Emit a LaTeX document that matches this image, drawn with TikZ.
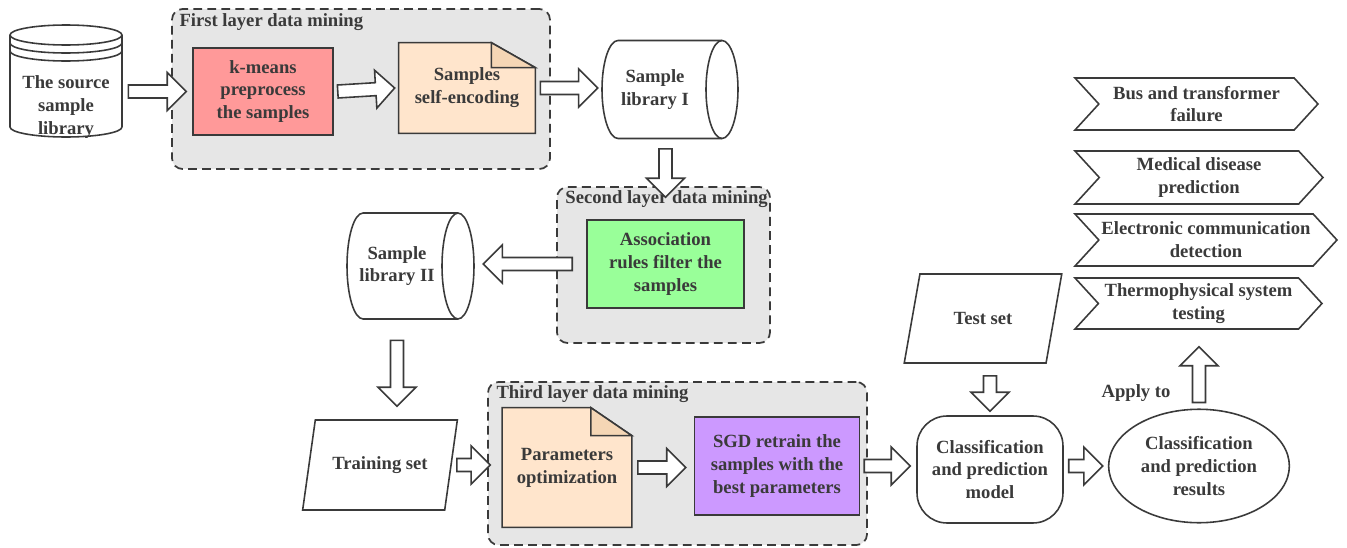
\documentclass[tikz,border=0pt]{standalone}
\usepackage{fontspec}
\setmainfont{Liberation Serif}[BoldFont={Liberation Serif Bold}]
\usetikzlibrary{shapes.geometric,shapes.symbols,calc,positioning}
\pgfdeclarelayer{background}
\pgfdeclarelayer{paper}
\pgfsetlayers{background,paper,main}
\definecolor{ink}{HTML}{3A3A3A}
\definecolor{layergray}{HTML}{E6E6E6}
\definecolor{kmred}{HTML}{FF9999}
\definecolor{docpeach}{HTML}{FFE5CC}
\definecolor{foldpeach}{HTML}{F5D6B5}
\definecolor{rulegreen}{HTML}{99FF99}
\definecolor{sgdpurple}{HTML}{CC99FF}
\newcommand{\boxfont}{\rmfamily\bfseries\fontsize{10.6}{13}\selectfont}
\tikzstyle{block} = [rectangle, draw=ink, line width=0.9pt, text=ink, align=center, font=\boxfont]
\tikzstyle{doc} = [rectangle, text=ink, align=center, font=\boxfont]
\tikzstyle{store} = [rectangle, text=ink, align=center, font=\boxfont]
\tikzstyle{io} = [trapezium, trapezium left angle=70, trapezium right angle=110,
    trapezium stretches=true, draw=ink, line width=0.9pt, text=ink, align=center, font=\boxfont]
\tikzstyle{tag} = [signal, signal to=east, signal from=west, signal pointer angle=95,
    draw=ink, line width=0.9pt, text=ink, align=center, font=\boxfont, inner sep=1pt]
\tikzstyle{layer} = [rectangle, draw=ink, dash pattern=on 5pt off 3pt, line width=1pt,
    fill=layergray, rounded corners=6pt]
\tikzstyle{caption} = [text=ink, font=\boxfont, inner sep=0pt, anchor=base west]
\tikzstyle{outline} = [draw=ink, line width=0.9pt]
\tikzstyle{line} = [draw=ink, fill=white, line width=0.9pt, line join=miter]
\tikzset{fat/.style={to path={let \p1=(\tikztostart), \p2=(\tikztotarget),
    \p3=($(\p2)!0.38cm!(\p1)$) in
    ($(\p1)!0.13cm!90:(\p2)$) -- ($(\p3)!0.13cm!-90:(\p1)$) -- ($(\p3)!0.38cm!-90:(\p1)$)
    -- (\p2) -- ($(\p3)!0.38cm!90:(\p1)$) -- ($(\p3)!0.13cm!90:(\p1)$)
    -- ($(\p1)!0.13cm!-90:(\p2)$) -- cycle}}}

\begin{document}
\begin{tikzpicture}[x=0.02cm, y=-0.02cm]
    \useasboundingbox (0,0) rectangle (1347,548);
    % Layer frames
    \begin{pgfonlayer}{background}
    \node [layer, minimum width=7.56cm, minimum height=3.2cm] (layer1) at (361,89) {};
    \node [layer, minimum width=4.26cm, minimum height=3.12cm] (layer2) at (663.5,265) {};
    \node [layer, minimum width=7.58cm, minimum height=3.26cm] (layer3) at (677.5,463.5) {};
    \end{pgfonlayer}
    \node [caption] (cap1) at ($(layer1.north west)+(8,18)$) {First layer data mining};
    \node [caption] (cap2) at ($(layer2.north west)+(9,17)$) {Second layer data mining};
    \node [caption] (cap3) at ($(layer3.north west)+(9,17)$) {Third layer data mining};

    % Place nodes
    \node [store, minimum width=2.24cm] (src) at (66,107) {The source\\sample\\library};
    \node [block, fill=kmred, minimum width=2.8cm, minimum height=1.74cm] (km) at (263,91.5) {k-means\\preprocess\\the samples};
    \node [doc, minimum width=2.72cm, minimum height=1.8cm] (enc) at (467,88) {Samples\\self-encoding};
    \node [store, minimum width=2.12cm, minimum height=1.96cm] (lib1) at (655,89.5) {Sample\\library I};
    \node [block, fill=rulegreen, minimum width=3.14cm, minimum height=1.76cm] (assoc) at (665.5,264) {Association\\rules filter the\\samples};
    \node [store, minimum width=3.12cm, minimum height=2.12cm] (lib2) at (397,266) {Sample\\library II};
    \node [io, minimum width=3.1cm, minimum height=1.8cm] (train) at (380,465) {Training set};
    \node [doc, minimum width=2.58cm, minimum height=2.38cm] (params) at (567,467.5) {Parameters\\optimization};
    \node [block, fill=sgdpurple, minimum width=3.3cm, minimum height=1.96cm] (sgd) at (777,466) {SGD retrain the\\samples with the\\best parameters};
    \node [block, rounded corners=0.6cm, minimum width=2.92cm, minimum height=2.14cm] (model) at (990,469.5) {Classification\\and prediction\\model};
    \node [io, minimum width=3.16cm, minimum height=1.78cm] (test) at (983,318.5) {Test set};
    \node [block, ellipse, minimum width=3.2cm, minimum height=2.27cm] (result) at (1199,466) {Classification\\and prediction\\results};
    \node [store] (apply) at (1136,393) {Apply to};
    \node [tag, minimum width=4.86cm, minimum height=1.04cm] (t1) at (1196.5,104) {Bus and transformer\\failure};
    \node [tag, minimum width=4.96cm, minimum height=1.06cm] (t2) at (1199,177.5) {Medical disease\\prediction};
    \node [tag, minimum width=5.24cm, minimum height=1.04cm] (t3) at (1206,240) {Electronic communication\\detection};
    \node [tag, minimum width=4.94cm, minimum height=1.02cm] (t4) at (1198.5,303.5) {Thermophysical system\\testing};

    % Storage and document outlines
    \draw [outline] ($(src.center)+(-56,-72)$) -- ($(src.center)+(-56,20)$)
        arc [start angle=180, end angle=360, x radius=1.12cm, y radius=0.2cm] -- ($(src.center)+(56,-72)$);
    \draw [outline] ($(src.center)+(0,-72)$) ellipse [x radius=1.12cm, y radius=0.2cm];
    \draw [outline] ($(src.center)+(-56,-64)$) arc [start angle=180, end angle=360, x radius=1.12cm, y radius=0.2cm];
    \draw [outline] ($(src.center)+(-56,-56)$) arc [start angle=180, end angle=360, x radius=1.12cm, y radius=0.2cm];
    \draw [outline] ($(lib1.center)+(67,-49)$) -- ($(lib1.center)+(-37,-49)$)
        arc [start angle=90, end angle=270, x radius=0.32cm, y radius=0.98cm] -- ($(lib1.center)+(67,49)$);
    \draw [outline] ($(lib1.center)+(67,0)$) ellipse [x radius=0.32cm, y radius=0.98cm];
    \draw [outline] ($(lib2.center)+(61,-53)$) -- ($(lib2.center)+(-34,-53)$)
        arc [start angle=90, end angle=270, x radius=0.32cm, y radius=1.06cm] -- ($(lib2.center)+(61,53)$);
    \draw [outline] ($(lib2.center)+(61,0)$) ellipse [x radius=0.32cm, y radius=1.06cm];
    \begin{pgfonlayer}{paper}
    \filldraw [outline, fill=docpeach] (enc.north west) -- ($(enc.north east)+(-44,0)$) -- ($(enc.north east)+(0,25)$)
        -- (enc.south east) -- (enc.south west) -- cycle;
    \filldraw [outline, fill=foldpeach] ($(enc.north east)+(-44,0)$) -- ($(enc.north east)+(-44,25)$) -- ($(enc.north east)+(0,25)$) -- cycle;
    \filldraw [outline, fill=docpeach] (params.north west) -- ($(params.north east)+(-41,0)$) -- ($(params.north east)+(0,28)$)
        -- (params.south east) -- (params.south west) -- cycle;
    \filldraw [outline, fill=foldpeach] ($(params.north east)+(-41,0)$) -- ($(params.north east)+(-41,28)$) -- ($(params.north east)+(0,28)$) -- cycle;
    \end{pgfonlayer}

    % Draw edges
    \path [line] ($(src.east |- km.west)+(6,0)$) to[fat] ($(km.west)+(-6,0)$);
    \path [line] ($(km.east)+(4,0)$) to[fat] ($(enc.west)+(-4,0)$);
    \path [line] ($(enc.east)+(5,0)$) to[fat] ($(lib1.west |- enc.east)+(-4,0)$);
    \path [line] ($(lib1.south -| assoc.north)+(0,10)$) to[fat] ($(assoc.north)+(0,-22)$);
    \path [line] ($(assoc.west)+(-14,0)$) to[fat] ($(lib2.east |- assoc.west)+(8,0)$);
    \path [line] ($(lib2.south)+(0,21)$) to[fat] ($(train.north -| lib2.south)+(0,-13)$);
    \path [line] ($(train.east)+(5,0)$) to[fat] ($(params.west |- train.east)+(-12,0)$);
    \path [line] ($(params.east)+(6,0)$) to[fat] ($(sgd.west |- params.east)+(-8,0)$);
    \path [line] ($(sgd.east)+(4,0)$) to[fat] ($(model.west |- sgd.east)+(-6,0)$);
    \path [line] ($(test.south -| model.north)+(0,12)$) to[fat] ($(model.north)+(0,-4)$);
    \path [line] ($(model.east |- result.west)+(5,0)$) to[fat] ($(result.west)+(-5,0)$);
    \path [line] ($(result.north)+(0,-6)$) to[fat] ($(t4.south -| result.north)+(0,17)$);
\end{tikzpicture}
\end{document}
